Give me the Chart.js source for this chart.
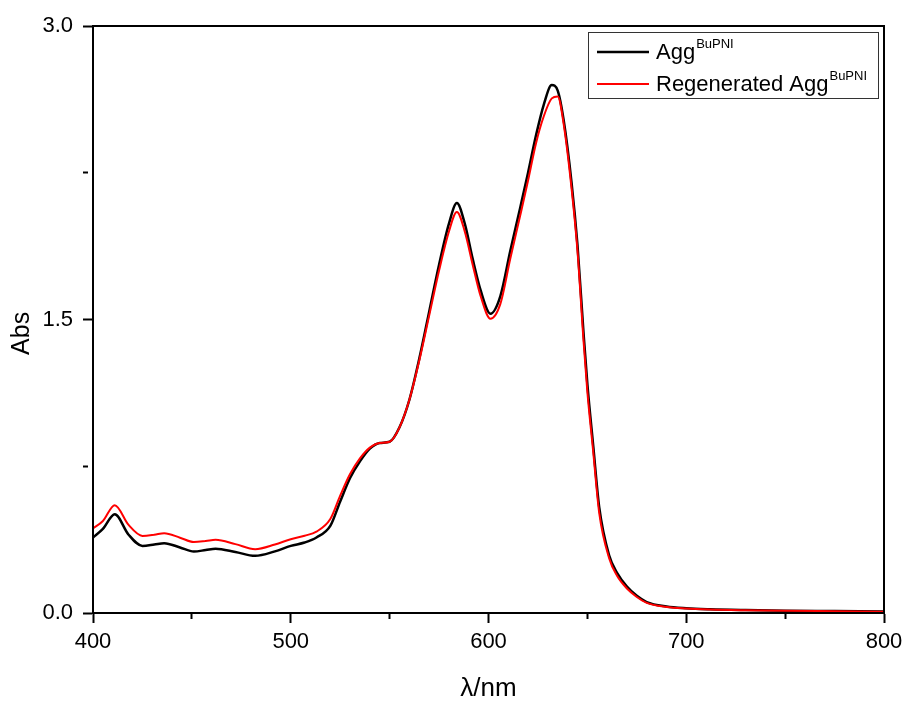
<!DOCTYPE html>
<html>
<head>
<meta charset="utf-8">
<script src="https://cdn.jsdelivr.net/npm/chart.js@4"></script>
<style>
  body { margin: 0; background: #fff; }
</style>
</head>
<body>
<canvas id="spectrum" width="904" height="702"></canvas>
<script>
// wavelengths (nm)
const wavelengths = [400,405,411,418,425,431,436,444,451,457,462,472,482,492,500,507,513,520,525,530,
    535,540,545,550,555,560,565,570,575,580,584,588,592,596,601,606,611,616,620,624,
    628,632,635,638,642,645,648,650,653,656,661,665,670,675,680,690,700,712,730,750,775,800];

// absorbance of Agg^BuPNI
const aggAbs = [0.386,0.43,0.505,0.40,0.343,0.350,0.357,0.335,0.314,0.322,0.329,0.312,0.292,0.315,0.343,0.360,0.386,0.445,0.57,0.69,
    0.775,0.84,0.869,0.875,0.949,1.09,1.30,1.54,1.78,1.99,2.095,1.99,1.81,1.65,1.53,1.62,1.85,2.07,2.25,2.44,
    2.60,2.698,2.67,2.52,2.20,1.88,1.44,1.17,0.85,0.54,0.295,0.205,0.135,0.088,0.056,0.033,0.024,0.019,0.015,0.012,0.010,0.008];

// absorbance of regenerated Agg^BuPNI
const regenAbs = [0.432,0.47,0.551,0.45,0.394,0.40,0.408,0.385,0.363,0.368,0.374,0.352,0.326,0.35,0.377,0.395,0.416,0.48,0.60,0.71,
    0.79,0.845,0.869,0.875,0.949,1.09,1.29,1.52,1.75,1.95,2.05,1.95,1.78,1.62,1.504,1.58,1.81,2.03,2.21,2.40,
    2.54,2.63,2.64,2.50,2.17,1.85,1.40,1.13,0.82,0.51,0.28,0.19,0.125,0.082,0.052,0.031,0.023,0.018,0.014,0.011,0.009,0.007];

const legendNames = ['Agg', 'Regenerated Agg'];
const legendSup = 'BuPNI';

const FONT = 'Arial, "Liberation Sans", sans-serif';

function toPoints(values) {
    return wavelengths.map((w, i) => ({ x: w, y: values[i] }));
}

// box around the plot area
const framePlugin = {
    id: 'frame',
    afterDatasetsDraw(chart) {
        const { ctx, chartArea: a } = chart;
        ctx.save();
        ctx.strokeStyle = '#000';
        ctx.lineWidth = 2;
        ctx.strokeRect(a.left, a.top, a.right - a.left, a.bottom - a.top);
        ctx.restore();
    }
};

// legend with superscript text
const supLegendPlugin = {
    id: 'supLegend',
    afterDraw(chart) {
        const ctx = chart.ctx;
        const boxX = 588, boxY = 32, boxW = 290, boxH = 66;
        ctx.save();
        ctx.fillStyle = '#fff';
        ctx.fillRect(boxX, boxY, boxW, boxH);
        ctx.strokeStyle = '#333';
        ctx.lineWidth = 1;
        ctx.strokeRect(boxX + 0.5, boxY + 0.5, boxW, boxH);
        chart.data.datasets.forEach((ds, i) => {
            const rowY = 52 + i * 32;
            ctx.strokeStyle = ds.borderColor;
            ctx.lineWidth = ds.borderWidth;
            ctx.beginPath();
            ctx.moveTo(597, rowY);
            ctx.lineTo(649, rowY);
            ctx.stroke();
            ctx.fillStyle = '#000';
            ctx.textBaseline = 'alphabetic';
            ctx.font = '22px ' + FONT;
            const base = rowY + 7;
            ctx.fillText(legendNames[i], 656, base);
            const w = ctx.measureText(legendNames[i]).width;
            ctx.font = '13px ' + FONT;
            ctx.fillText(legendSup, 656 + w + 1, base - 11);
        });
        ctx.restore();
    }
};

new Chart(document.getElementById('spectrum'), {
    type: 'line',
    data: {
        datasets: [
            {
                label: 'Agg' + legendSup,
                data: toPoints(aggAbs),
                borderColor: '#000000',
                borderWidth: 2.5,
                pointRadius: 0,
                cubicInterpolationMode: 'monotone',
                order: 1
            },
            {
                label: 'Regenerated Agg' + legendSup,
                data: toPoints(regenAbs),
                borderColor: '#ff0000',
                borderWidth: 2,
                pointRadius: 0,
                cubicInterpolationMode: 'monotone',
                order: 0
            }
        ]
    },
    options: {
        responsive: false,
        animation: false,
        devicePixelRatio: 1,
        layout: { padding: { top: 26, right: 20, left: 0, bottom: 0 } },
        plugins: {
            legend: { display: false },
            tooltip: { enabled: false }
        },
        scales: {
            x: {
                type: 'linear',
                min: 400,
                max: 800,
                afterFit: s => {
                    s.height = 89;
                    s.paddingLeft = 0;
                    s.paddingRight = 0;
                },
                border: { display: true, color: '#000', width: 2 },
                grid: {
                    drawOnChartArea: false,
                    drawTicks: true,
                    tickLength: 10,
                    tickColor: '#000',
                    tickWidth: 2,
                    tickBorderDash: c => (c.tick && c.tick.value % 100 !== 0) ? [5, 40] : []
                },
                ticks: {
                    stepSize: 50,
                    autoSkip: false,
                    maxRotation: 0,
                    padding: 6,
                    color: '#000',
                    font: { family: FONT, size: 22 },
                    callback: v => (v % 100 === 0 ? String(v) : '')
                },
                title: {
                    display: true,
                    text: 'λ/nm',
                    color: '#000',
                    font: { family: FONT, size: 26, lineHeight: 1 },
                    padding: { top: 0, bottom: 0 }
                }
            },
            y: {
                min: 0,
                max: 3,
                afterFit: s => { s.width = 93; },
                border: { display: true, color: '#000', width: 2 },
                grid: {
                    drawOnChartArea: false,
                    drawTicks: true,
                    tickLength: 10,
                    tickColor: '#000',
                    tickWidth: 2,
                    tickBorderDash: c => {
                        if (!c.tick) return [];
                        const k = c.tick.value / 1.5;
                        return Math.abs(k - Math.round(k)) > 1e-6 ? [5, 40] : [];
                    }
                },
                ticks: {
                    stepSize: 0.75,
                    autoSkip: false,
                    padding: 10,
                    color: '#000',
                    font: { family: FONT, size: 22 },
                    callback: v => {
                        const k = v / 1.5;
                        return Math.abs(k - Math.round(k)) < 1e-6 ? v.toFixed(1) : '';
                    }
                },
                title: {
                    display: true,
                    text: 'Abs    ',
                    color: '#000',
                    font: { family: FONT, size: 25, lineHeight: 1 },
                    padding: { top: 10, bottom: 0 }
                }
            }
        }
    },
    plugins: [framePlugin, supLegendPlugin]
});
</script>
</body>
</html>
